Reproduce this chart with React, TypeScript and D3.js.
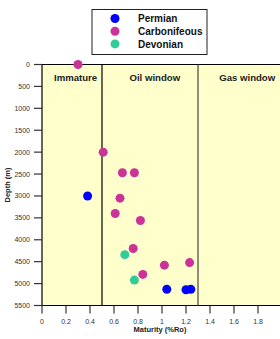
import React from "react";
import * as d3 from "d3";

// Vitrinite reflectance vs depth
const permianRo = [0.38, 1.04, 1.2, 1.24];
const permianDepth = [3000, 5130, 5140, 5130];
const carbRo = [0.3, 0.51, 0.67, 0.77, 0.65, 0.61, 0.82, 0.76, 0.84, 1.02, 1.23];
const carbDepth = [0, 2000, 2470, 2470, 3050, 3400, 3560, 4200, 4790, 4580, 4520];
const devRo = [0.69, 0.77];
const devDepth = [4340, 4920];

const xTicks = [0, 0.2, 0.4, 0.6, 0.8, 1, 1.2, 1.4, 1.6, 1.8];
const yTicks = [0, 500, 1000, 1500, 2000, 2500, 3000, 3500, 4000, 4500, 5000, 5500];
const zoneBounds = [0.5, 1.3];
const zoneNames = ["Immature", "Oil window", "Gas window"];
const zoneMids = [0.28, 0.94, 1.71];

const series = [
  { name: "Permian", color: "#0000ff", x: permianRo, y: permianDepth },
  { name: "Carbonifeous", color: "#cc3399", x: carbRo, y: carbDepth },
  { name: "Devonian", color: "#33cc99", x: devRo, y: devDepth },
];

export default function App() {
  const width = 280;
  const height = 339;
  const left = 42;
  const top = 64.5;
  const bottom = 305.5;

  const x = d3.scaleLinear().domain([0, 2]).range([left, left + 240]);
  const y = d3.scaleLinear().domain([0, 5500]).range([top, bottom]);

  const font = "Arial, 'Liberation Sans', sans-serif";

  return (
    <svg
      width={width}
      height={height}
      style={{ position: "absolute", left: 0, top: 0 }}
      fontFamily={font}
    >
      <rect x={0} y={0} width={width} height={height} fill="#fff" />
      {/* plot background */}
      <rect x={left} y={top} width={x(2) - left} height={bottom - top} fill="#ffffcc" />
      <line x1={left} x2={width} y1={top} y2={top} stroke="#000" strokeWidth={1.2} />
      <line x1={left} x2={width} y1={bottom} y2={bottom} stroke="#000" strokeWidth={1.2} />
      <line x1={left} x2={left} y1={top} y2={bottom} stroke="#000" strokeWidth={1.2} />

      {/* zone boundaries */}
      {zoneBounds.map((b, i) => (
        <line
          key={b}
          x1={x(b)}
          x2={x(b)}
          y1={top}
          y2={bottom}
          stroke={i === 0 ? "#000" : "#444"}
          strokeWidth={1.2}
        />
      ))}
      {zoneNames.map((n, i) => (
        <text
          key={n}
          x={x(zoneMids[i])}
          y={81}
          textAnchor="middle"
          fontSize={9.6}
          fontWeight="bold"
          fill="#222"
        >
          {n}
        </text>
      ))}

      {/* y axis */}
      {yTicks.map((t) => (
        <g key={t}>
          <line x1={left - 8} x2={left} y1={y(t)} y2={y(t)} stroke="#333" strokeWidth={1.2} />
          <text x={30} y={y(t) + 2.5} textAnchor="end" fontSize={7} fill="#333">
            {t}
          </text>
        </g>
      ))}
      {/* x axis */}
      {xTicks.map((t) => (
        <g key={t}>
          <line x1={x(t)} x2={x(t)} y1={bottom} y2={bottom + 8} stroke="#333" strokeWidth={1.2} />
          <text x={x(t)} y={bottom + 18} textAnchor="middle" fontSize={7} fill="#333">
            {d3.format("")(t)}
          </text>
        </g>
      ))}
      <text
        transform={`translate(10,${(top + bottom) / 2}) rotate(-90)`}
        textAnchor="middle"
        fontSize={7.5}
        fontWeight="bold"
        fill="#222"
      >
        Depth (m)
      </text>
      <text x={160} y={332} textAnchor="middle" fontSize={7.5} fontWeight="bold" fill="#222">
        Maturity (%Ro)
      </text>

      {/* points */}
      {series.map((s) =>
        s.x.map((v, i) => (
          <circle key={s.name + i} cx={x(v)} cy={y(s.y[i])} r={4.5} fill={s.color} />
        ))
      )}

      {/* legend */}
      <rect x={92} y={9.5} width={115} height={45} fill="#fff" stroke="#222" strokeWidth={1} />
      {series.map((s, i) => (
        <g key={s.name}>
          <circle cx={115} cy={18.5 + i * 12.7} r={4.5} fill={s.color} />
          <text x={138} y={22.2 + i * 12.7} fontSize={10} fontWeight="bold" fill="#111">
            {s.name}
          </text>
        </g>
      ))}
    </svg>
  );
}
